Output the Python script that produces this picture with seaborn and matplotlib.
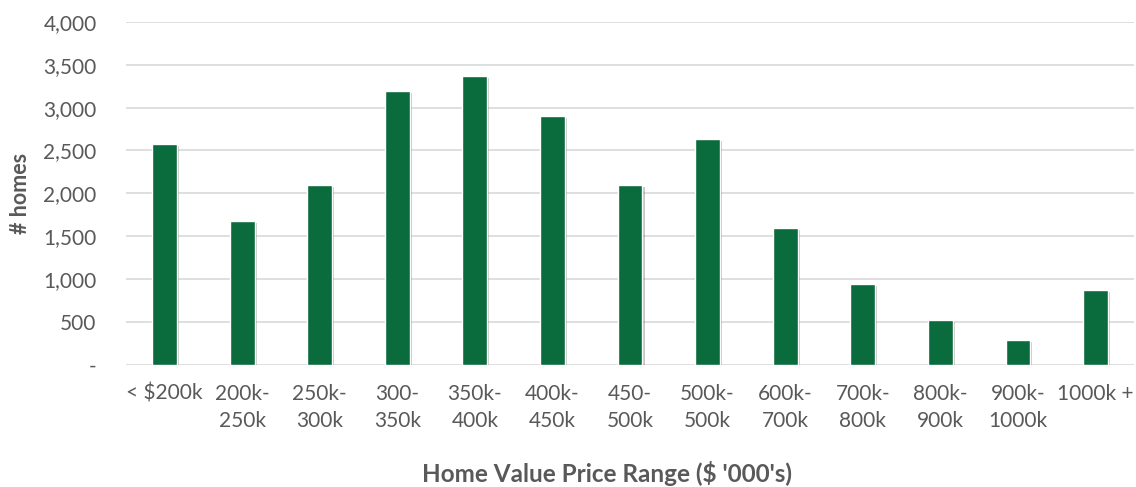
import numpy as np
import pandas as pd
import seaborn as sns
import matplotlib.pyplot as plt
import matplotlib.patheffects as pe
from matplotlib.ticker import FuncFormatter

# chart data
price_ranges = ['< $200k', '200k-\n250k', '250k-\n300k', '300-\n350k', '350k-\n400k',
                '400k-\n450k', '450-\n500k', '500k-\n500k', '600k-\n700k', '700k-\n800k',
                '800k-\n900k', '900k-\n1000k', '1000k +']
homes = [2578, 1676, 2097, 3195, 3370, 2907, 2093, 2634, 1595, 940, 516, 286, 870]

df = pd.DataFrame({'range': price_ranges, 'homes': homes})

sns.set_style('white')
plt.rcParams['font.family'] = ['Lato', 'DejaVu Sans']

fig, ax = plt.subplots(figsize=(11.36, 4.87), dpi=100)
fig.subplots_adjust(left=0.1107, right=0.9985, top=0.9548, bottom=0.2515)

sns.barplot(data=df, x='range', y='homes', color='#0A6B3C', width=0.32,
            saturation=1, ax=ax, zorder=3)

# soft drop shadow like the original
for p in ax.patches:
    p.set_path_effects([pe.SimplePatchShadow(offset=(1.5, -1.5), shadow_rgbFace='#444444', alpha=0.3),
                        pe.Normal()])

ax.set_ylim(0, 4000)
ax.set_yticks(np.arange(0, 4001, 500))
ax.yaxis.set_major_formatter(FuncFormatter(lambda v, _: '-' if v == 0 else f'{int(v):,}'))
ax.grid(axis='y', color='#D9D9D9', linewidth=1.2, zorder=0)
ax.set_axisbelow(True)
for s in ax.spines.values():
    s.set_visible(False)

ax.tick_params(axis='both', length=0, labelsize=15, labelcolor='#595959')
ax.tick_params(axis='x', pad=14)
ax.tick_params(axis='y', pad=21)
for t in ax.get_xticklabels():
    t.set_linespacing(1.45)

ax.set_xlabel("Home Value Price Range ($ '000's)", fontsize=17.5, fontweight='bold',
              color='#595959', va='center')
ax.xaxis.set_label_coords(0.477, -0.318)
ax.set_ylabel('# homes', fontsize=15.5, fontweight='bold', color='#595959', labelpad=9)

plt.savefig('out.png', dpi=100)
